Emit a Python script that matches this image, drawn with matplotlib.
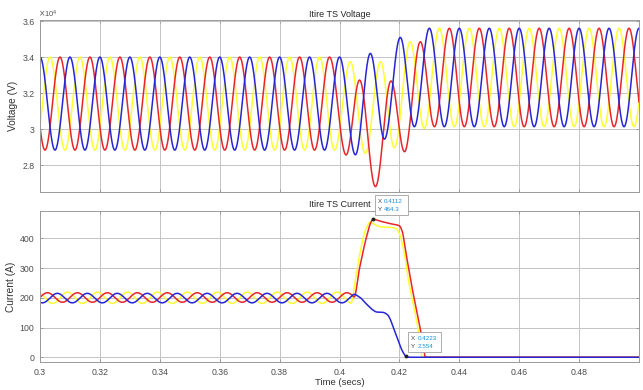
import numpy as np
import matplotlib.pyplot as plt
from matplotlib.patches import Rectangle
from matplotlib.transforms import IdentityTransform
from matplotlib.ticker import FuncFormatter

plt.rcParams['font.family'] = ['Liberation Sans', 'DejaVu Sans']

# ---- voltage data ----
period = 0.01
# first peak time of each phase in the steady state
vA_peak0, vB_peak0, vC_peak0 = 0.30667, 0.30333, 0.30000
# steady peak / trough levels before and after the event [V]
v_pre_hi, v_pre_lo = 34000, 28830
v_post_hi, v_post_lo = 35600, 30130

# extrema during the transient (time, value)
vA_tr_t = [0.4022, 0.4067, 0.4120, 0.4172, 0.4217, 0.4270, 0.4317]
vA_tr_v = [28560, 32720, 26800, 32670, 28740, 34850, 30130]
vB_tr_t = [0.4036, 0.4086, 0.4137, 0.4183, 0.4236, 0.4283]
vB_tr_v = [33740, 28650, 33740, 28960, 34850, 30040]
vC_tr_t = [0.4053, 0.4103, 0.4150, 0.4203, 0.4250]
vC_tr_v = [28570, 34200, 29440, 35090, 30130]

# ---- current data ----
# steady state: offset, amplitude, peak time
iA_off, iA_amp, iA_peak0 = 201, 16, 0.3025
iB_off, iB_amp, iB_peak0 = 200, 19, 0.2992
iC_off, iC_amp, iC_peak0 = 199, 16, 0.3058

# transient knots (first value is taken from the steady wave)
iA_tr_t = [0.4048, 0.4067, 0.4089, 0.4104, 0.4112, 0.4135, 0.4167, 0.4200,
           0.4209, 0.4222, 0.4244, 0.4267, 0.4278, 0.4287, 0.5]
iA_tr_v = [300, 400, 452, 464.3, 458, 450, 442, 425, 350, 225, 110, 50, 0, 0]
iB_tr_t = [0.4038, 0.4052, 0.4067, 0.4089, 0.4102, 0.4120, 0.4135, 0.4170,
           0.4190, 0.4200, 0.4211, 0.4233, 0.4256, 0.4268, 0.4276, 0.5]
iB_tr_v = [255, 344, 434, 454, 445, 439, 437, 432, 415, 377, 243, 131, 60, 0, 0]
iC_tr_t = [0.4045, 0.4067, 0.4089, 0.4110, 0.4125, 0.4145, 0.4160, 0.4189,
           0.4211, 0.4223, 0.4235, 0.5]
iC_tr_v = [202, 180, 160, 152, 151, 143, 75, 19, 2.554, 0, 0]

tips = [(0.4112, 464.3, '0.4112', '464.3'), (0.4223, 2.554, '0.4223', '2.554')]

xticks = [0.30, 0.32, 0.34, 0.36, 0.38, 0.40, 0.42, 0.44, 0.46, 0.48]
v_ticks = [28000, 30000, 32000, 34000, 36000]
i_ticks = [0, 100, 200, 300, 400]

red, yellow, blue = '#e8262a', '#ffff30', '#2626d6'

t = np.linspace(0.3, 0.5, 6001)


def voltage_wave(peak0, tr_t, tr_v):
    k = np.arange(-4, 44)
    te = peak0 + 0.5 * period * k
    hi = (k % 2 == 0)
    pre = te < tr_t[0] - 0.002
    post = te > tr_t[-1] + 0.002
    ext_t = np.concatenate([te[pre], tr_t, te[post]])
    ext_v = np.concatenate([np.where(hi[pre], v_pre_hi, v_pre_lo), tr_v,
                            np.where(hi[post], v_post_hi, v_post_lo)])
    i = np.clip(np.searchsorted(ext_t, t) - 1, 0, len(ext_t) - 2)
    s = (t - ext_t[i]) / (ext_t[i + 1] - ext_t[i])
    return ext_v[i] + (ext_v[i + 1] - ext_v[i]) * (1 - np.cos(np.pi * s)) / 2


def pchip(x, y, xn, m0):
    x = np.asarray(x, float); y = np.asarray(y, float)
    h = np.diff(x); d = np.diff(y) / h
    m = np.zeros_like(y)
    for k in range(1, len(y) - 1):
        if d[k - 1] * d[k] > 0:
            w1 = 2 * h[k] + h[k - 1]; w2 = h[k] + 2 * h[k - 1]
            m[k] = (w1 + w2) / (w1 / d[k - 1] + w2 / d[k])
    m[0] = m0; m[-1] = d[-1]
    i = np.clip(np.searchsorted(x, xn) - 1, 0, len(x) - 2)
    s = (xn - x[i]) / h[i]
    h00 = 2 * s**3 - 3 * s**2 + 1; h10 = s**3 - 2 * s**2 + s
    h01 = -2 * s**3 + 3 * s**2; h11 = s**3 - s**2
    return h00 * y[i] + h10 * h[i] * m[i] + h01 * y[i + 1] + h11 * h[i] * m[i + 1]


def current_wave(off, amp, peak0, tr_t, tr_v):
    w = 2 * np.pi / period
    steady = off + amp * np.cos(w * (t - peak0))
    t0 = tr_t[0]
    y0 = off + amp * np.cos(w * (t0 - peak0))
    m0 = -amp * w * np.sin(w * (t0 - peak0))
    trans = pchip(tr_t, [y0] + list(tr_v), t, m0)
    return np.where(t < t0, steady, trans)


vA = voltage_wave(vA_peak0, vA_tr_t, vA_tr_v)
vB = voltage_wave(vB_peak0, vB_tr_t, vB_tr_v)
vC = voltage_wave(vC_peak0, vC_tr_t, vC_tr_v)
iA = current_wave(iA_off, iA_amp, iA_peak0, iA_tr_t, iA_tr_v)
iB = current_wave(iB_off, iB_amp, iB_peak0, iB_tr_t, iB_tr_v)
iC = current_wave(iC_off, iC_amp, iC_peak0, iC_tr_t, iC_tr_v)

W, H = 643, 390
fig = plt.figure(figsize=(W / 100, H / 100), dpi=100)
ax1 = fig.add_axes([40 / W, 1 - 192 / H, 599 / W, 172 / H])
ax2 = fig.add_axes([40 / W, 1 - 362 / H, 599 / W, 151 / H])

for ax in (ax1, ax2):
    ax.set_xlim(0.3, 0.5)
    ax.set_xticks(xticks)
    ax.grid(True, color='#c4c4c4', lw=0.7)
    ax.set_axisbelow(True)
    ax.tick_params(direction='in', length=2.5, width=0.5, color='#8a8a8a',
                   labelcolor='#4d4d4d', labelsize=6.3, top=True, right=True, pad=4)
    for sp in ax.spines.values():
        sp.set_color('#9a9a9a'); sp.set_linewidth(0.7)

ax1.plot(t, vB, color=yellow, lw=1.1)
ax1.plot(t, vA, color=red, lw=1.1)
ax1.plot(t, vC, color=blue, lw=1.1)
ax1.set_ylim(26500, 36060)
ax1.set_yticks(v_ticks)
ax1.yaxis.set_major_formatter(FuncFormatter(lambda v, p: f'{v / 1e4:g}'))
ax1.tick_params(labelbottom=False)
ax1.set_ylabel('Voltage (V)', fontsize=7.3, color='#333333', labelpad=3)
ax1.set_title('Itire TS Voltage', fontsize=6.5, color='#262626', pad=2.5)
fig.text(38 / W, 1 - 18 / H, r'$\times\mathregular{10^{4}}$', fontsize=5.5,
         color='#555555', va='baseline')

ax2.plot(t, iB, color=yellow, lw=1.1)
ax2.plot(t, iA, color=red, lw=1.1)
ax2.plot(t, iC, color=blue, lw=1.1)
ax2.set_ylim(-16, 492)
ax2.set_yticks(i_ticks)
ax2.xaxis.set_major_formatter(FuncFormatter(lambda v, p: f'{v:g}'))
ax2.set_ylabel('Current (A)', fontsize=7.3, color='#333333', labelpad=3)
ax2.set_xlabel('Time (secs)', fontsize=6.8, color='#333333', labelpad=1)
ax2.set_title('Itire TS Current', fontsize=6.5, color='#262626', pad=3)

# data tips
for x, y, xs, ys in tips:
    px, py = ax2.transData.transform((x, y))
    ax2.plot(x, y, 'o', ms=1.8, color='#222222', zorder=12, clip_on=False)
    bw, bh = 33, 20
    left, bottom = px + 2, py + 4
    ax2.add_artist(Rectangle((left, bottom), bw, bh, transform=IdentityTransform(),
                             facecolor='white', edgecolor='#a0a0a0', lw=0.6,
                             zorder=10, clip_on=False))
    top = bottom + bh
    for dy, lab, val in ((6, 'X', xs), (14, 'Y', ys)):
        ax2.text(left + 3, top - dy, lab, transform=IdentityTransform(), fontsize=4.5,
                 color='#404040', va='center', zorder=11, clip_on=False)
        ax2.text(left + 9, top - dy, val, transform=IdentityTransform(), fontsize=4.5,
                 color='#1a8fe0', va='center', zorder=11, clip_on=False)

fig.savefig('out.png', dpi=100)
